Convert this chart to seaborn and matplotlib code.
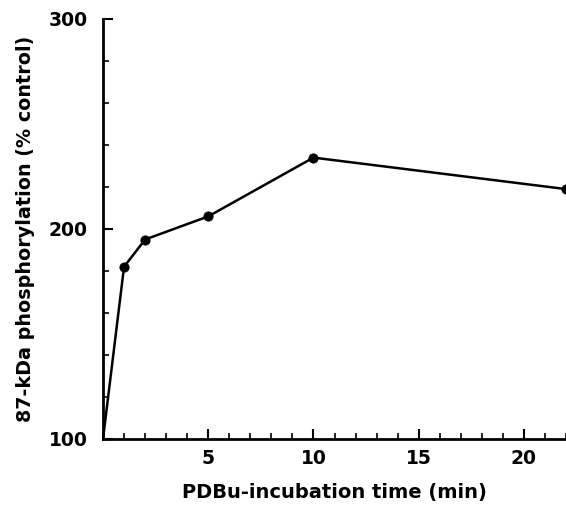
import matplotlib
matplotlib.use("Agg")
import matplotlib.pyplot as plt
import seaborn as sns
import pandas as pd
from matplotlib.ticker import MultipleLocator

time_min = [0, 1, 2, 5, 10, 22]
phospho = [100, 182, 195, 206, 234, 219]

sns.set_theme(style="ticks")
plt.rcParams['font.family'] = ['DejaVu Sans']
plt.rcParams['text.color'] = 'black'
plt.rcParams['axes.labelcolor'] = 'black'
plt.rcParams['xtick.color'] = 'black'
plt.rcParams['ytick.color'] = 'black'

df = pd.DataFrame({"t": time_min, "p": phospho})

fig = plt.figure(figsize=(5.66, 5.05), dpi=100)
ax = fig.add_axes([103/566, (505-439)/505, (566-103)/566, (439-19)/505])

sns.lineplot(data=df, x="t", y="p", ax=ax, color="black", linewidth=1.8,
             marker=None, clip_on=True)
sns.scatterplot(data=df.iloc[1:], x="t", y="p", ax=ax, color="black", s=45,
                edgecolor="black", zorder=3, clip_on=True)

ax.set_xlim(0, 22)
ax.set_ylim(100, 300)
ax.xaxis.set_minor_locator(MultipleLocator(1))
ax.yaxis.set_major_locator(MultipleLocator(100))
ax.yaxis.set_minor_locator(MultipleLocator(20))
ax.set_xticks([5, 10, 15, 20])
ax.tick_params(axis="both", which="major", direction="in", length=7, width=1.5,
               labelsize=13.5, color="black", labelcolor="black")
ax.tick_params(axis="x", which="major", pad=7)
ax.tick_params(axis="y", which="major", pad=11)
ax.tick_params(axis="both", which="minor", direction="in", length=4, width=1.2,
               color="black")
for lab in ax.get_xticklabels() + ax.get_yticklabels():
    lab.set_fontweight("bold")

sns.despine(ax=ax)
for s in ["left", "bottom"]:
    ax.spines[s].set_linewidth(2)
    ax.spines[s].set_color("black")

ax.set_xlabel("PDBu-incubation time (min)", fontsize=14, fontweight="bold",
              labelpad=11, color="black")
ax.set_ylabel("87-kDa phosphorylation (% control)", fontsize=13.8, fontweight="bold",
              labelpad=10, color="black")

fig.savefig("out.png", dpi=100)
